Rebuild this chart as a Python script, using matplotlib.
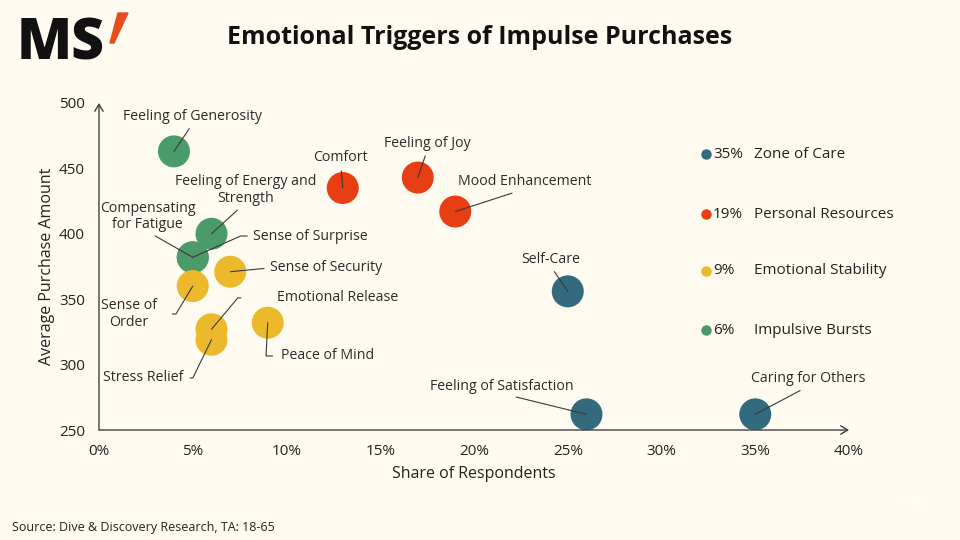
import matplotlib.pyplot as plt
from matplotlib.patches import Polygon

plt.rcParams['font.family'] = ['Open Sans', 'DejaVu Sans']

# data
triggers = ["Feeling of Generosity", "Feeling of Energy and\nStrength", "Compensating\nfor Fatigue",
            "Sense of Surprise", "Comfort", "Feeling of Joy", "Mood Enhancement",
            "Sense of\nOrder", "Sense of Security", "Emotional Release", "Stress Relief",
            "Peace of Mind", "Self-Care", "Feeling of Satisfaction", "Caring for Others"]
share = [4, 6, 5, 5, 13, 17, 19, 5, 7, 6, 6, 9, 25, 26, 35]
amount = [463, 400, 382, 382, 435, 443, 417, 360, 371, 327, 319, 332, 356, 262, 262]
group = ["Impulsive Bursts", "Impulsive Bursts", "Impulsive Bursts", "Impulsive Bursts",
         "Personal Resources", "Personal Resources", "Personal Resources",
         "Emotional Stability", "Emotional Stability", "Emotional Stability",
         "Emotional Stability", "Emotional Stability",
         "Zone of Care", "Zone of Care", "Zone of Care"]

groups = ["Zone of Care", "Personal Resources", "Emotional Stability", "Impulsive Bursts"]
group_share = ["35%", "19%", "9%", "6%"]
colors = {"Zone of Care": "#336A7D", "Personal Resources": "#E83E14",
          "Emotional Stability": "#EBB92B", "Impulsive Bursts": "#4B9A6A"}

x_ticks = [0, 5, 10, 15, 20, 25, 30, 35, 40]
y_ticks = [250, 300, 350, 400, 450, 500]

# label layout: text position, alignment, line start on text, connection, gap
layout = {
    "Feeling of Generosity": ((5.0, 490), "center", (0.5, 0), None, 2),
    "Feeling of Energy and\nStrength": ((7.8, 433.5), "center", (0.48, 0), None, 2),
    "Compensating\nfor Fatigue": ((2.6, 413.5), "center", (0.5, 0), None, 2),
    "Sense of Surprise": ((8.2, 398.3), "left", (0, 0.5), "angle,angleA=0,angleB=24,rad=0", 2),
    "Comfort": ((12.9, 458), "center", (0.5, 0), None, 2),
    "Feeling of Joy": ((17.5, 469.4), "center", (0.5, 0), None, 2),
    "Mood Enhancement": ((22.7, 439.6), "center", (0.49, 0), None, 2),
    "Sense of\nOrder": ((1.6, 338.7), "center", (1, 0.5), "angle,angleA=0,angleB=59,rad=0", 9),
    "Sense of Security": ((9.1, 373.9), "left", (0, 0.5), None, 2),
    "Emotional Release": ((9.5, 351), "left", (0, 0.5), "angle,angleA=0,angleB=50,rad=0", 24),
    "Stress Relief": ((2.35, 289.8), "center", (1, 0.5), "angle,angleA=0,angleB=64,rad=0", 3),
    "Peace of Mind": ((9.7, 306.6), "left", (0, 0.5), "angle,angleA=0,angleB=87,rad=0", 4),
    "Self-Care": ((24.1, 380.7), "center", (0.5, 0), None, 2),
    "Feeling of Satisfaction": ((21.5, 283.6), "center", (0.5, 0), None, 2),
    "Caring for Others": ((37.8, 289), "center", (0.5, 0), None, 2),
}

bg = "#FFFBF0"
fig = plt.figure(figsize=(9.6, 5.4), dpi=100, facecolor=bg)
ax = fig.add_axes([0.1031, 0.2037, 0.7813, 0.6056])
ax.set_facecolor(bg)

draw_order = ["Zone of Care", "Personal Resources", "Impulsive Bursts", "Emotional Stability"]
for g in draw_order:
    xs = [s for s, gg in zip(share, group) if gg == g]
    ys = [a for a, gg in zip(amount, group) if gg == g]
    ax.scatter(xs, ys, s=530, color=colors[g], edgecolors="none", zorder=3)

for name, x, y in zip(triggers, share, amount):
    pos, ha, rel, conn, gap = layout[name]
    props = dict(arrowstyle="-", color="#3a3a3a", lw=0.8, shrinkA=gap, shrinkB=0, relpos=rel)
    if conn:
        props["connectionstyle"] = conn
    ax.annotate(name, xy=(x, y), xytext=pos, ha=ha, va="center", multialignment="center",
                fontsize=10.2, color="#2b2b2b", arrowprops=props, zorder=4,
                linespacing=1.1)

ax.set_xlim(0, 40)
ax.set_ylim(250, 500)
ax.set_xticks(x_ticks)
ax.set_xticklabels([f"{t}%" for t in x_ticks])
ax.set_yticks(y_ticks)
for s in ax.spines.values():
    s.set_visible(False)
ax.tick_params(length=0, labelsize=11, labelcolor="#222222")
ax.tick_params(axis="x", pad=10)
ax.tick_params(axis="y", pad=10)
ax.set_xlabel("Share of Respondents", fontsize=11.5, color="#222222", labelpad=5)
ax.set_ylabel("Average Purchase Amount", fontsize=11.5, color="#222222", labelpad=3)

arrow = dict(arrowstyle="->,head_length=0.5,head_width=0.3", color="#404040", lw=1,
             shrinkA=0, shrinkB=0)
ax.annotate("", xy=(40, 250), xytext=(0, 250), arrowprops=arrow, annotation_clip=False)
ax.annotate("", xy=(0, 500), xytext=(0, 250), arrowprops=arrow, annotation_clip=False)

# legend
legend_y = [154, 214, 271, 330]
for g, pct, ly in zip(groups, group_share, legend_y):
    fy = 1 - ly / 540
    fig.lines.append(plt.Line2D([706 / 960], [fy], marker="o", markersize=6.5,
                                color=colors[g], transform=fig.transFigure))
    fig.text(713 / 960, fy, pct, fontsize=11, va="center", ha="left", color="#222222")
    fig.text(754 / 960, fy, g, fontsize=11, va="center", ha="left", color="#222222")

# title and logo
fig.text(0.5, 1 - 37 / 540, "Emotional Triggers of Impulse Purchases", ha="center",
         va="center", fontsize=18, fontweight="bold", color="#111111")
fig.text(17 / 960, 1 - 60 / 540, "MS", ha="left", va="baseline", fontsize=41,
         fontweight="heavy", color="#111111")
fig.patches.append(Polygon([(118 / 960, 1 - 13 / 540), (128 / 960, 1 - 13 / 540),
                            (114 / 960, 1 - 43 / 540), (110 / 960, 1 - 43 / 540)],
                           closed=True, color="#E84B1C", transform=fig.transFigure))

fig.text(12 / 960, 1 - 527 / 540, "Source: Dive & Discovery Research, TA: 18-65",
         ha="left", va="center", fontsize=9, color="#222222")
fig.text(912 / 960, 1 - 500 / 540, "Page 1", ha="center", va="center", fontsize=6,
         color="#ffffff")

fig.savefig("out.png", dpi=100, facecolor=bg)
